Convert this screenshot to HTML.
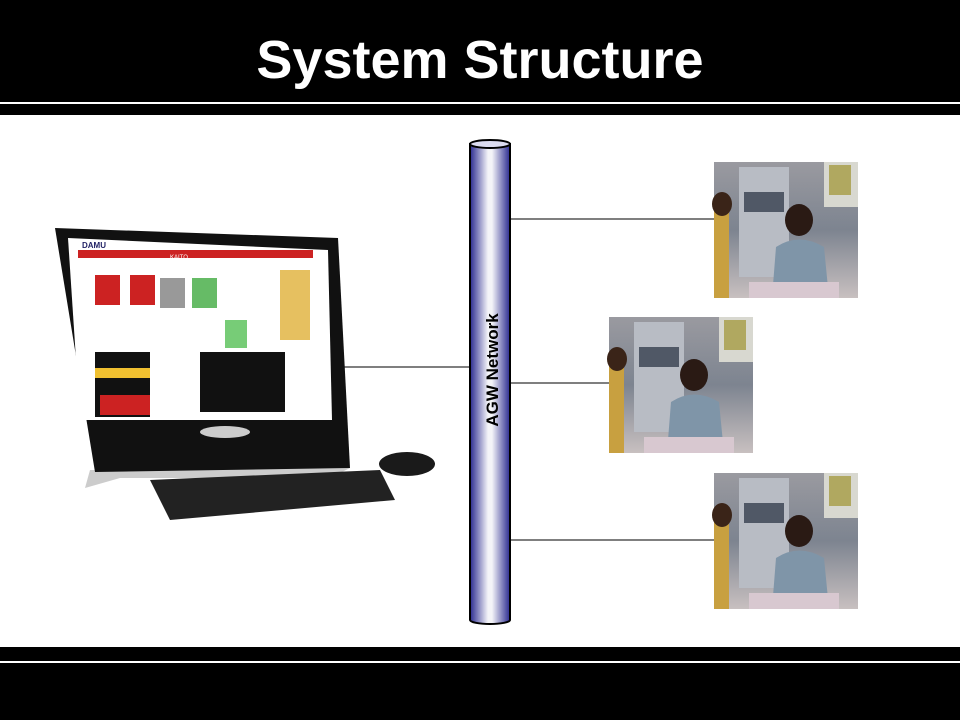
<!DOCTYPE html>
<html><head><style>
body{margin:0;width:960px;height:720px;background:#fff;position:relative;overflow:hidden;font-family:"Liberation Sans",sans-serif}
</style></head><body>
<svg width="960" height="720" style="position:absolute;left:0;top:0">
<defs>
<linearGradient id="cyl" x1="0" x2="1" y1="0" y2="0">
<stop offset="0" stop-color="#2a2a90"/><stop offset="0.45" stop-color="#f4f4f8"/><stop offset="0.55" stop-color="#f4f4f8"/><stop offset="1" stop-color="#2a2a90"/>
</linearGradient>
<linearGradient id="photo" x1="0" x2="0" y1="0" y2="1">
<stop offset="0" stop-color="#9a9aa0"/><stop offset="0.5" stop-color="#7d8490"/><stop offset="1" stop-color="#c8c0c0"/>
</linearGradient>
<g id="ph">
<rect width="144" height="136" fill="url(#photo)"/>
<rect x="25" y="5" width="50" height="110" fill="#b8bcc4"/>
<rect x="30" y="30" width="40" height="20" fill="#505866"/>
<rect x="110" y="0" width="34" height="45" fill="#d8d8d0"/>
<rect x="115" y="3" width="22" height="30" fill="#b0a860"/>
<ellipse cx="85" cy="58" rx="14" ry="16" fill="#2a1a14"/>
<path d="M58 136 L62 85 Q85 70 110 85 L115 136Z" fill="#7f95a8"/>
<rect x="0" y="40" width="15" height="96" fill="#c8a040"/>
<ellipse cx="8" cy="42" rx="10" ry="12" fill="#3a2418"/>
<rect x="35" y="120" width="90" height="16" fill="#d8c8d0"/>
</g>
</defs>
<rect x="0" y="0" width="960" height="102" fill="#000"/>
<rect x="0" y="104" width="960" height="11" fill="#000"/>
<rect x="0" y="647" width="960" height="14" fill="#000"/>
<rect x="0" y="663" width="960" height="57" fill="#000"/>
<text x="480" y="78" text-anchor="middle" fill="#fff" font-size="54" font-weight="bold" font-family="Liberation Sans">System Structure</text>
<line x1="510" y1="219" x2="714" y2="219" stroke="#555" stroke-width="1.5"/>
<line x1="510" y1="383" x2="609" y2="383" stroke="#555" stroke-width="1.5"/>
<line x1="510" y1="540" x2="714" y2="540" stroke="#555" stroke-width="1.5"/>
<line x1="335" y1="367" x2="470" y2="367" stroke="#555" stroke-width="1.5"/>
<path d="M470 144 L470 620 A20 4 0 0 0 510 620 L510 144Z" fill="url(#cyl)" stroke="#000" stroke-width="2"/>
<ellipse cx="490" cy="144" rx="20" ry="4" fill="#dcdcf0" stroke="#000" stroke-width="2"/>
<text transform="translate(498,370) rotate(-90)" text-anchor="middle" font-size="17" font-weight="bold" fill="#000">AGW Network</text>
<use href="#ph" x="714" y="162"/>
<use href="#ph" x="609" y="317"/>
<use href="#ph" x="714" y="473"/>
<!-- computer -->
<path d="M90 470 L85 488 L120 478 L330 478 L350 468Z" fill="#ccc"/>
<path d="M55 228 L338 238 L350 468 L95 472 Z" fill="#111"/>
<path d="M68 238 L328 250 L332 420 L80 420Z" fill="#fff"/>
<rect x="78" y="250" width="235" height="8" fill="#c22"/>
<rect x="95" y="275" width="25" height="30" fill="#c22"/>
<rect x="130" y="275" width="25" height="30" fill="#c22"/>
<rect x="160" y="278" width="25" height="30" fill="#999"/>
<rect x="192" y="278" width="25" height="30" fill="#6b6"/>
<rect x="225" y="320" width="22" height="28" fill="#7c7"/>
<rect x="280" y="270" width="30" height="70" fill="#e6c060"/>
<rect x="95" y="352" width="55" height="65" fill="#111"/>
<rect x="95" y="368" width="55" height="10" fill="#f0c030"/>
<rect x="100" y="395" width="50" height="20" fill="#c22"/>
<rect x="200" y="352" width="85" height="60" fill="#111"/>
<text x="170" y="259" font-size="6" fill="#fff">KAITO</text>
<text x="82" y="248" font-size="8" font-weight="bold" fill="#226">DAMU</text>
<path d="M150 480 L380 470 L395 500 L170 520Z" fill="#222"/>
<ellipse cx="407" cy="464" rx="28" ry="12" fill="#1a1a1a"/>
<ellipse cx="225" cy="432" rx="25" ry="6" fill="#ccc"/>
</svg>
</body></html>
